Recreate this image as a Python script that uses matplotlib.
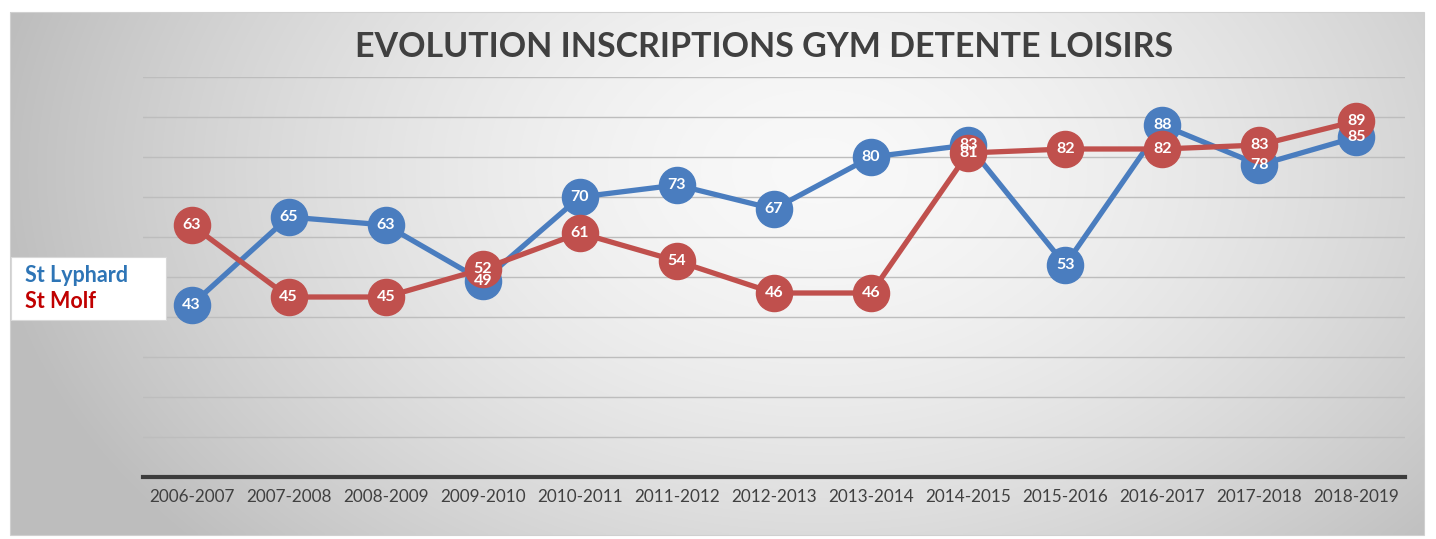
import numpy as np
import matplotlib
matplotlib.use("Agg")
import matplotlib.pyplot as plt
from matplotlib.patches import Rectangle

seasons = ["2006-2007", "2007-2008", "2008-2009", "2009-2010", "2010-2011", "2011-2012",
           "2012-2013", "2013-2014", "2014-2015", "2015-2016", "2016-2017", "2017-2018", "2018-2019"]
st_lyphard = [43, 65, 63, 49, 70, 73, 67, 80, 83, 53, 88, 78, 85]
st_molf = [63, 45, 45, 52, 61, 54, 46, 46, 81, 82, 82, 83, 89]

title = "EVOLUTION INSCRIPTIONS GYM DETENTE LOISIRS"
FONT = ["Lato", "DejaVu Sans"]
plt.rcParams['font.family'] = FONT

W, H = 1436, 539
fig = plt.figure(figsize=(W / 100, H / 100), dpi=100)
fig.patch.set_facecolor("white")

# background gradient panel
bg = fig.add_axes([0, 0, 1, 1])
bg.set_xlim(0, W)
bg.set_ylim(H, 0)
bg.axis("off")
x0, x1, y0, y1 = 10, 1424, 12, 535
xx, yy = np.meshgrid(np.linspace(x0, x1, 400), np.linspace(y0, y1, 160))
cx, cy = 820, 170
r = np.sqrt(((xx - cx) / 760) ** 2 + ((yy - cy) / 520) ** 2)
r = np.clip(r, 0, 1.1)
val = 0.975 - 0.2 * r ** 1.6
img = np.dstack([val, val, val])
bg.imshow(img, extent=(x0, x1, y1, y0), aspect="auto", zorder=0, interpolation="bilinear")
bg.add_patch(Rectangle((x0, y0), x1 - x0, y1 - y0, fill=False, ec="#d0d0d0", lw=0.8, zorder=1))

# title
bg.text(764, 47, title, ha="center", va="center", fontsize=24.5, fontweight="bold",
        color="#404040", zorder=5)

ax = fig.add_axes([143 / W, (H - 477) / H, (1405 - 143) / W, (477 - 77) / H])
ax.patch.set_alpha(0)
x = np.arange(len(seasons))
ax.set_xlim(-0.5, len(seasons) - 0.5)
ax.set_ylim(0, 100)
ax.set_yticks(np.arange(10, 101, 10))
ax.yaxis.grid(True, color="#bdbdbd", lw=1.0)
ax.set_axisbelow(True)
for s in ["left", "right", "top"]:
    ax.spines[s].set_visible(False)
ax.spines["bottom"].set_color("#3c3c3c")
ax.spines["bottom"].set_linewidth(3)
ax.tick_params(axis="y", left=False, labelleft=False)
ax.tick_params(axis="x", bottom=False, pad=5, labelsize=12.3, labelcolor="#404040")
ax.set_xticks(x)
ax.set_xticklabels(seasons)

blue = "#4a7dbf"
red = "#c0504d"
ax.plot(x, st_lyphard, color=blue, lw=3.8, marker="o", ms=26, mfc=blue, mec=blue,
        zorder=3, clip_on=False, solid_capstyle="round")
ax.plot(x, st_molf, color=red, lw=3.8, marker="o", ms=26, mfc=red, mec=red,
        zorder=4, clip_on=False, solid_capstyle="round")
for xi, v in zip(x, st_lyphard):
    ax.text(xi, v, str(v), ha="center", va="center", color="white", fontsize=11.5,
            fontweight="bold", zorder=6, clip_on=False)
for xi, v in zip(x, st_molf):
    ax.text(xi, v, str(v), ha="center", va="center", color="white", fontsize=11.5,
            fontweight="bold", zorder=7, clip_on=False)

# legend box (drawn on top of the plot axes)
lg = fig.add_axes([0, 0, 1, 1])
lg.set_xlim(0, W)
lg.set_ylim(H, 0)
lg.axis("off")
lg.patch.set_alpha(0)
lg.add_patch(Rectangle((11, 257), 155, 63, fc="white", ec="#d8d8d8", lw=0.8, zorder=5))
lg.text(25, 276, "St Lyphard", ha="left", va="center", fontsize=15.5, fontweight="bold",
        color="#2e75b6", zorder=6)
lg.text(25, 302, "St Molf", ha="left", va="center", fontsize=15.5, fontweight="bold",
        color="#c00000", zorder=6)

fig.savefig("out.png", dpi=100)
